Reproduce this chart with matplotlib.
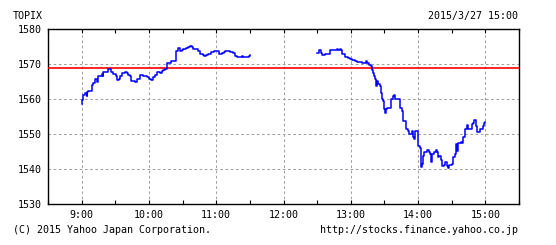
import matplotlib
matplotlib.use("Agg")
import matplotlib.pyplot as plt
import numpy as np

# Morning session: minutes after 9:00 and TOPIX values
am_minutes = [0, 0.6, 1.5, 3, 4.5, 5, 6, 9, 10.4, 11.9, 13.4, 14.9, 17.9, 18.7, 19.3,
              23.8, 26.2, 28.3, 30.4, 31.8, 33.6, 34.2, 35.7, 38.7, 40.2, 41.7, 43.2,
              44, 47.6, 49.1, 50.6, 52.1, 55.1, 56.5, 58.6, 60.1, 61.6, 64, 65.5, 67,
              69.3, 69.9, 71.4, 72.9, 74.4, 75.9, 76.5, 79.8, 81.8, 84.2, 86.3, 87.8,
              89.3, 90.8, 93.1, 94.6, 96.7, 98.2, 99.7, 104.2, 105.6, 108, 109.2, 110.7,
              113.1, 115.2, 117.6, 122.9, 125, 126.5, 128, 132.4, 135.4, 136.9, 138.4,
              142.9, 144.3, 148.8, 150]
am_values = [1558.5, 1559.8, 1561.2, 1561.7, 1560.8, 1562.0, 1562.2, 1564.1, 1564.6,
             1565.7, 1565.0, 1566.7, 1567.1, 1566.7, 1567.6, 1568.7, 1567.6, 1567.1,
             1566.5, 1565.5, 1565.7, 1566.7, 1567.4, 1567.6, 1567.4, 1567.0, 1566.5,
             1565.3, 1564.9, 1565.6, 1565.8, 1567.0, 1566.7, 1566.5, 1566.2, 1565.7,
             1565.5, 1566.3, 1567.0, 1567.6, 1567.7, 1567.4, 1567.9, 1568.4, 1568.6,
             1569.1, 1570.3, 1570.8, 1571.0, 1573.6, 1574.6, 1573.6, 1573.9, 1574.3,
             1574.6, 1575.0, 1575.2, 1575.0, 1574.3, 1573.6, 1572.95, 1572.7, 1572.2,
             1572.7, 1572.95, 1573.3, 1573.6, 1572.9, 1573.1, 1573.3, 1573.6, 1573.3,
             1573.1, 1572.4, 1571.9, 1572.2, 1571.9, 1572.2, 1572.7]

# Afternoon session: minutes after 12:30 and TOPIX values
pm_minutes = [0, 1.8, 3, 4.5, 6.8, 11.3, 14.3, 15.8, 17.3, 18.7, 20.2, 21.7, 22.6, 24.7,
              27.7, 29.2, 30.7, 33.6, 35.7, 39.6, 44, 44.6, 46.1, 47.6, 48.5, 49.4,
              50.6, 51.5, 52.1, 53, 53.9, 55.9, 56.8, 57.4, 58.3, 59.5, 60.4, 61.3,
              62.5, 64.3, 65.5, 67.3, 68.4, 69.3, 73.8, 75.3, 76.2, 79.2, 80.6, 81.8,
              84.8, 85.7, 86.6, 87.2, 89.6, 90.2, 91.7, 92.3, 93.4, 94.6, 95.2, 97,
              98.2, 99.4, 100.6, 101.5, 102.6, 104.5, 105.6, 106.5, 107.4, 108.9, 110.1,
              111, 113.1, 114, 115.5, 116.4, 117.8, 119.9, 121.4, 122.9, 123.5, 124.4,
              125.9, 128, 129.5, 130.4, 131.8, 133.3, 134.8, 137.8, 139.3, 140.2, 141.4,
              142.2, 145.2, 148.2, 149.1, 150]
pm_values = [1573.1, 1573.9, 1573.1, 1572.5, 1572.9, 1573.9, 1574.1, 1573.9, 1574.4,
             1574.1, 1574.2, 1573.9, 1572.8, 1571.9, 1571.7, 1571.5, 1571.2, 1571.0,
             1570.6, 1570.3, 1570.8, 1570.3, 1569.8, 1569.5, 1568.4, 1567.5, 1566.5,
             1565.6, 1563.7, 1565.1, 1564.2, 1563.7, 1561.8, 1559.9, 1559.4, 1557.1,
             1556.1, 1557.1, 1557.5, 1557.4, 1559.9, 1560.8, 1561.1, 1559.9, 1557.4,
             1556.6, 1553.8, 1551.4, 1550.9, 1550.0, 1550.9, 1549.1, 1548.6, 1550.8,
             1550.8, 1546.7, 1546.2, 1540.6, 1541.5, 1543.9, 1545.0, 1544.8, 1545.6,
             1545.0, 1544.3, 1542.2, 1544.3, 1545.0, 1545.6, 1545.0, 1543.4, 1543.9,
             1542.5, 1541.0, 1541.2, 1542.0, 1541.0, 1540.3, 1541.2, 1541.5, 1543.4,
             1544.3, 1547.2, 1545.3, 1547.6, 1547.8, 1547.6, 1549.1, 1551.4, 1552.6,
             1551.4, 1552.8, 1553.1, 1554.1, 1552.4, 1550.5, 1551.4, 1552.4, 1553.1,
             1553.5]

prev_close = 1568.9
hour_ticks = [9, 10, 11, 12, 13, 14, 15]
hour_labels = ["9:00", "10:00", "11:00", "12:00", "13:00", "14:00", "15:00"]
y_ticks = [1530, 1540, 1550, 1560, 1570, 1580]

FONT = "DejaVu Sans Mono"
FS = 7.2

fig = plt.figure(figsize=(5.56, 2.45), dpi=100)
ax = fig.add_axes([48 / 556, 1 - 204.3 / 245, (519 - 48) / 556, (204.3 - 29) / 245])

am_t = 9 + np.array(am_minutes) / 60.0
pm_t = 12.5 + np.array(pm_minutes) / 60.0

ax.axhline(prev_close, color="#ff0000", lw=1.2, zorder=3)
ax.plot(am_t, am_values, color="#0000ff", lw=1.1, drawstyle="steps-post", zorder=4)
ax.plot(pm_t, pm_values, color="#0000ff", lw=1.1, drawstyle="steps-post", zorder=4)

ax.set_xlim(8.5, 15.5)
ax.set_ylim(1530, 1580)

ax.set_xticks(hour_ticks)
ax.set_xticklabels(hour_labels, fontfamily=FONT, fontsize=FS)
ax.set_xticks(np.arange(8.5, 15.51, 0.5), minor=True)
ax.set_yticks(y_ticks)
ax.set_yticklabels([str(v) for v in y_ticks], fontfamily=FONT, fontsize=FS)

ax.tick_params(axis="x", which="both", direction="in", length=3, width=0.8,
               top=True, bottom=True, pad=4)
ax.tick_params(axis="y", which="both", length=0, pad=4.5)

for h in hour_ticks:
    ax.axvline(h, color="#a0a0a0", lw=0.75, ls=(0, (2.5, 2.5)), zorder=1)
for v in [1540, 1550, 1560, 1570]:
    ax.axhline(v, color="#a0a0a0", lw=0.75, ls=(0, (2.5, 2.5)), zorder=1)

for s in ax.spines.values():
    s.set_linewidth(1.0)
    s.set_color("black")

fig.text(13 / 556, 1 - 16 / 245, "TOPIX", fontfamily=FONT, fontsize=FS,
         ha="left", va="center")
fig.text(518 / 556, 1 - 16 / 245, "2015/3/27 15:00", fontfamily=FONT, fontsize=FS,
         ha="right", va="center")
fig.text(13 / 556, 1 - 230 / 245, "(C) 2015 Yahoo Japan Corporation.", fontfamily=FONT,
         fontsize=FS, ha="left", va="center")
fig.text(518 / 556, 1 - 230 / 245, "http://stocks.finance.yahoo.co.jp", fontfamily=FONT,
         fontsize=FS, ha="right", va="center")

fig.savefig("out.png", dpi=100)
